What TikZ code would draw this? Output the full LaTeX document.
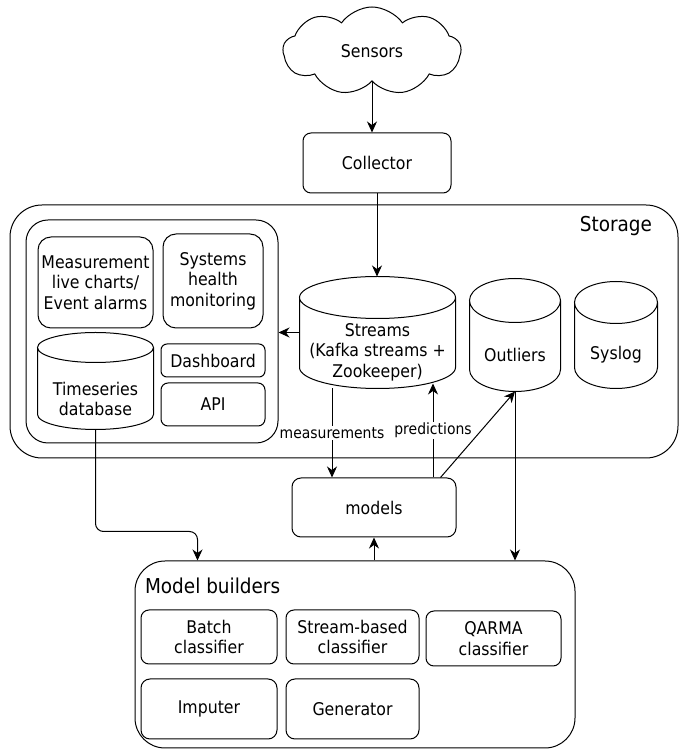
\documentclass[tikz,border=0pt]{standalone}
\usepackage{fontspec}
\setmainfont{DejaVu Sans}[FakeStretch=0.9]
\usepackage{tikz}
\usetikzlibrary{arrows.meta,calc,shapes.symbols}
\tikzset{
    plain-box/.style = {draw, rectangle, rounded corners=8pt, align=center, inner sep=0pt, font=\fontsize{17.5}{20.5}\selectfont},
    group-box/.style = {draw, rectangle, inner sep=0pt},
    db-cyl/.style = {rectangle, inner sep=0pt},
    db-text/.style = {align=center, inner sep=0pt, font=\fontsize{17.5}{20.5}\selectfont},
    group-title/.style = {inner sep=0pt, font=\fontsize{20.5}{24}\selectfont},
    flow-arrow/.style = {-{Stealth[length=11pt, width=10pt, inset=3.5pt]}},
    edge-label/.style = {fill=white, inner sep=1pt, font=\fontsize{15.5}{18}\selectfont},
}
% cylinder outline round a named node: #1 node, #2 half height of the lid
\newcommand{\dbcylinder}[2]{%
    \draw let \p1 = (#1.north west), \p2 = (#1.south east), \p3 = (#1.north), \n1 = {(\x2-\x1)/2} in
        (\x3, \y1-#2) ellipse [x radius=\n1, y radius=#2]
        (\x1, \y1-#2) -- (\x1, \y2+#2)
        arc [start angle=180, end angle=360, x radius=\n1, y radius=#2]
        -- (\x2, \y1-#2);
}

\begin{document}
\begin{tikzpicture}[x=1pt, y=1pt, line width=1pt]
\useasboundingbox (0,0) rectangle (694,750);

\node [draw, cloud, cloud puffs=9, cloud puff arc=110, aspect=2, minimum width=178pt, minimum height=88pt, inner sep=0pt,
       font=\fontsize{17.5}{20.5}\selectfont] (sensors) at (372,699) {Sensors};
\node [plain-box, minimum width=148pt, minimum height=60pt] (collector) at (377,587) {Collector};

% storage
\node [group-box, rounded corners=32pt, minimum width=668pt, minimum height=253pt] (storage) at (344,418.5) {};
\node [group-title, anchor=base east] (storage-title) at ([xshift=-26pt, yshift=-27pt]storage.north east) {Storage};
\node [group-box, rounded corners=22pt, minimum width=252pt, minimum height=223pt] (frontend) at (152,418.5) {};
\node [plain-box, rounded corners=13pt, minimum width=115pt, minimum height=91pt] (charts) at (95.5,467.5) {Measurement\\live charts/\\Event alarms};
\node [plain-box, rounded corners=13pt, minimum width=100pt, minimum height=94pt] (health) at (213,469) {Systems\\health\\monitoring};
\node [plain-box, rounded corners=6pt, minimum width=104pt, minimum height=33pt] (dashboard) at (213,389.5) {Dashboard};
\node [plain-box, rounded corners=7pt, minimum width=104pt, minimum height=43pt] (api) at (213,345.5) {API};

\node [db-cyl, minimum width=115pt, minimum height=96pt] (tsdb) at (95.5,369) {};
\dbcylinder{tsdb}{15pt}
\node [db-text] (tsdb-text) at (95.5,351) {Timeseries\\database};

\node [db-cyl, minimum width=155pt, minimum height=111pt] (streams) at (377.5,417.5) {};
\dbcylinder{streams}{21pt}
\node [db-text] (streams-text) at (377.5,398) {Streams\\(Kafka streams +\\Zookeeper)};

\node [db-cyl, minimum width=90pt, minimum height=112pt] (outliers) at (515,415) {};
\dbcylinder{outliers}{22pt}
\node [db-text] (outliers-text) at (515,395) {Outliers};

\node [db-cyl, minimum width=82pt, minimum height=106pt] (syslog) at (616,415) {};
\dbcylinder{syslog}{21pt}
\node [db-text] (syslog-text) at (616,395) {Syslog};

\node [plain-box, rounded corners=9pt, minimum width=164pt, minimum height=59pt] (models) at (374,242.5) {models};

% model builders
\node [group-box, rounded corners=30pt, minimum width=440pt, minimum height=187pt] (builders) at (355,95.5) {};
\node [group-title, anchor=base west] (builders-title) at ([xshift=10pt, yshift=-33pt]builders.north west) {Model builders};
\node [plain-box, minimum width=136pt, minimum height=54pt] (batch) at (209,113) {Batch\\classifier};
\node [plain-box, minimum width=133pt, minimum height=54pt] (streamcls) at (352.5,113) {Stream-based\\classifier};
\node [plain-box, minimum width=135pt, minimum height=55pt] (qarma) at (493.5,111.5) {QARMA\\classifier};
\node [plain-box, rounded corners=9pt, minimum width=136pt, minimum height=60pt] (imputer) at (209,41) {Imputer};
\node [plain-box, rounded corners=9pt, minimum width=133pt, minimum height=60pt] (generator) at (352.5,41) {Generator};

% connectors
\coordinate (pred-tip) at ([xshift=55.5pt, yshift=5pt]streams.south);
\draw [flow-arrow] (sensors.south) -- (sensors.south |- collector.north);
\draw [flow-arrow] (collector.south) -- (collector.south |- streams.north);
\draw [flow-arrow] (streams.west) -- (streams.west -| frontend.east);
\draw [flow-arrow] ([xshift=-45.5pt]streams.south) -- ([xshift=-45.5pt]streams.south |- models.north)
    node [midway, edge-label] {measurements};
\draw [flow-arrow] (pred-tip |- models.north) -- (pred-tip)
    node [midway, edge-label] {predictions};
\draw [flow-arrow] ([xshift=-16pt]models.north east) -- (outliers.south);
\draw [flow-arrow] (outliers.south) -- (outliers.south |- builders.north);
\draw [flow-arrow] (models.south |- builders.north) -- (models.south);
\draw [flow-arrow, rounded corners=8pt] (tsdb.south) |- ([xshift=63pt, yshift=29pt]builders.north west)
    -- ([xshift=63pt]builders.north west);
\end{tikzpicture}
\end{document}
